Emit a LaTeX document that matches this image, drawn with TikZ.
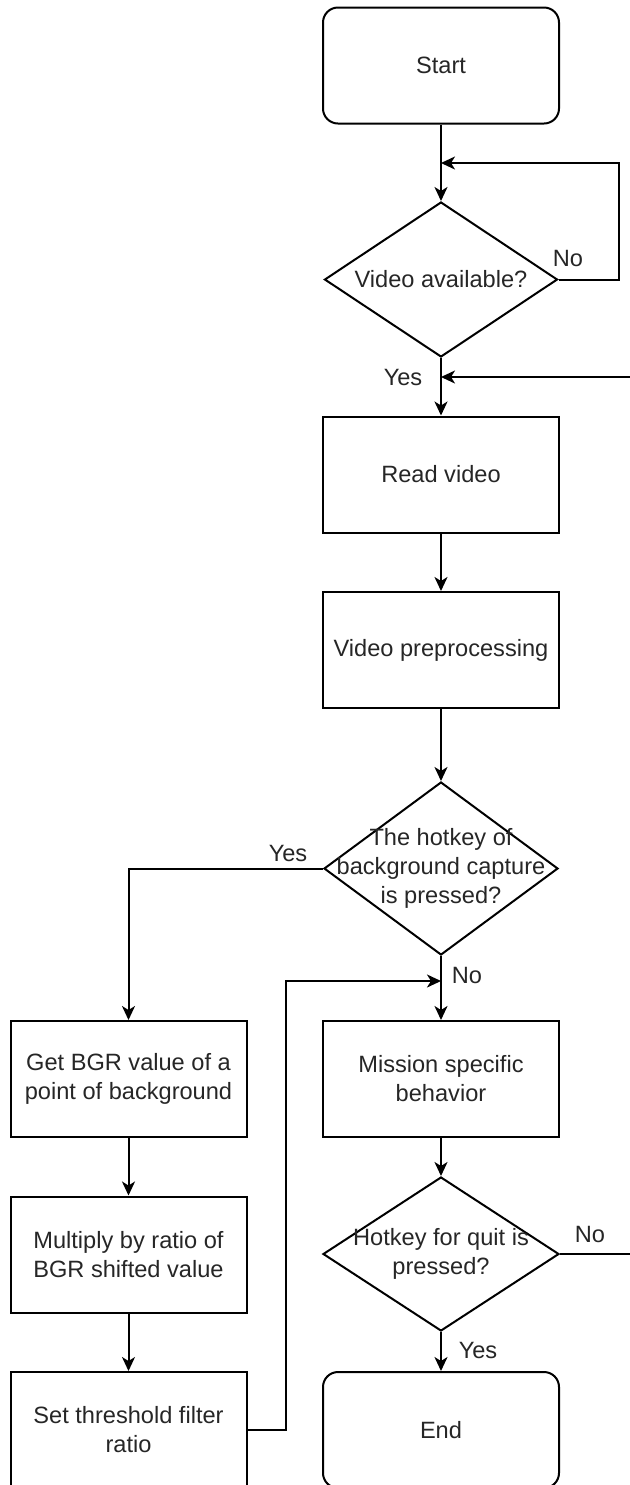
\documentclass[tikz,border=0pt]{standalone}
\usepackage{fontspec}
\setmainfont{Liberation Sans}
\usetikzlibrary{shapes.geometric,arrows.meta,calc}

\tikzset{
	process/.style={draw, line width=1pt, minimum width=118pt, minimum height=58pt, inner sep=0pt, align=center},
	terminal/.style={process, rounded corners=7.5pt},
	decision/.style={draw, diamond, line width=1pt, inner sep=0pt},
	arr/.style={line width=1pt, -{Stealth[length=7pt, width=6.5pt, inset=2pt]}},
	link/.style={line width=1pt},
	lbl/.style={inner sep=0pt}
}

\begin{document}
\begin{tikzpicture}[x=0.5pt, y=-0.5pt, font=\fontsize{11.8pt}{14.5pt}\selectfont, text=black!85]
		\useasboundingbox (0,0) rectangle (630,1485);
		\node[terminal] (start) at (441,65.5) {Start};
		\node[decision, minimum width=116.5pt, minimum height=77.5pt, label={center:Video available?}] (avail) at (441,279.5) {};
		\node[process] (read) at (441,474.5) {Read video};
		\node[process] (prep) at (441,650) {Video preprocessing};
		\node[decision, minimum width=117pt, minimum height=86.5pt, label={[align=center]center:The hotkey of\\background capture\\is pressed?}] (capture) at (441,868.5) {};
		\node[process] (mission) at (441,1079) {Mission specific\\behavior};
		\node[decision, minimum width=118pt, minimum height=77pt, label={[align=center]center:Hotkey for quit is\\pressed?}] (quit) at (441,1254) {};
		\node[terminal] (finish) at (441,1430) {End};
		\node[process] (getbgr) at (128.5,1079) {Get BGR value of a\\point of background};
		\node[process] (multiply) at (128.5,1254.5) {Multiply by ratio of\\BGR shifted value};
		\node[process] (thresh) at (128.5,1430) {Set threshold filter\\ratio};

		\coordinate (join1) at (441,163);
		\coordinate (join2) at (441,377);
		\coordinate (join3) at (441,981);
		\coordinate (backin) at (630,377);
		\coordinate (quitout) at (630,1254);

		\draw[arr] (start) -- (avail);
		\draw[arr] (avail.east) -- ++(60,0) |- (join1);
		\draw[arr] (avail) -- (read);
		\draw[arr] (backin) -- (join2);
		\draw[arr] (read) -- (prep);
		\draw[arr] (prep) -- (capture);
		\draw[arr] (capture.west) -| (getbgr.north);
		\draw[arr] (capture) -- (mission);
		\draw[arr] (getbgr) -- (multiply);
		\draw[arr] (multiply) -- (thresh);
		\draw[arr] (thresh.east) -- ++(38,0) |- (join3);
		\draw[arr] (mission) -- (quit);
		\draw[arr] (quit) -- (finish);
		\draw[link] (quit.east) -- (quitout);

		\node[lbl] (noavail) at (568,258) {No};
		\node[lbl] (yesavail) at (403,377) {Yes};
		\node[lbl] (yescapture) at (288,853) {Yes};
		\node[lbl] (nocapture) at (467,975) {No};
		\node[lbl] (noquit) at (590,1234) {No};
		\node[lbl] (yesquit) at (478,1350) {Yes};
	\end{tikzpicture}
\end{document}
